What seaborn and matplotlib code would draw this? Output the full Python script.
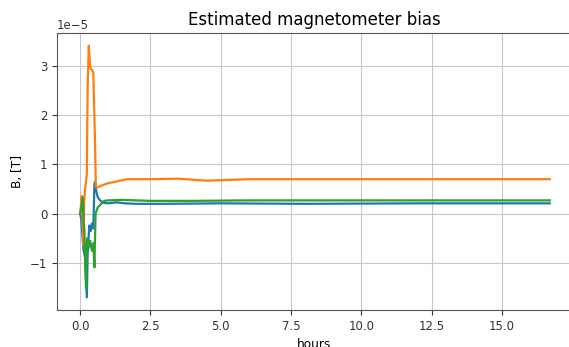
import numpy as np
import pandas as pd
import seaborn as sns
import matplotlib
matplotlib.use("Agg")
import matplotlib.pyplot as plt

# 估计的磁力计偏置 (单位 1e-5 T)
t_x = [0, 0.04, 0.12, 0.18, 0.24, 0.27, 0.33, 0.38, 0.42, 0.47, 0.51, 0.53,
       0.58, 0.63, 0.70, 0.81, 1.0, 1.3, 1.6, 2.0, 3.0, 5.0, 8.0, 12.0, 16.7]
b_x = [0, -0.1, -0.72, -0.9, -1.7, -0.8, -0.24, -0.35, -0.2, -0.3, 0.6, 0.65,
       0.45, 0.33, 0.28, 0.22, 0.21, 0.23, 0.21, 0.2, 0.2, 0.21, 0.2, 0.21, 0.21]

t_y = [0, 0.04, 0.06, 0.12, 0.15, 0.18, 0.24, 0.27, 0.31, 0.36, 0.47, 0.53,
       0.56, 0.60, 0.80, 1.0, 1.2, 1.66, 2.5, 3.5, 4.0, 4.5, 5.0, 6.0, 8.0,
       10.0, 12.0, 14.0, 16.7]
b_y = [0, 0.2, 0.36, -0.65, 0.3, 0.5, 0.8, 2.6, 3.41, 2.97, 2.87, 1.5,
       0.55, 0.53, 0.58, 0.62, 0.64, 0.70, 0.70, 0.71, 0.69, 0.67, 0.68, 0.70,
       0.70, 0.70, 0.70, 0.70, 0.70]

t_z = [0, 0.04, 0.10, 0.12, 0.15, 0.21, 0.25, 0.30, 0.36, 0.42, 0.47, 0.51,
       0.55, 0.63, 0.75, 0.85, 1.0, 1.5, 2.5, 4.0, 6.0, 10.0, 16.7]
b_z = [0, 0.1, 0.33, -0.1, -0.3, -1.52, -0.5, -0.7, -0.55, -0.75, -0.6, -1.09,
       0.0, 0.13, 0.2, 0.26, 0.27, 0.28, 0.26, 0.26, 0.27, 0.27, 0.27]

df = pd.concat([
    pd.DataFrame({"hours": t_x, "B": np.array(b_x) * 1e-5, "axis": "x"}),
    pd.DataFrame({"hours": t_y, "B": np.array(b_y) * 1e-5, "axis": "y"}),
    pd.DataFrame({"hours": t_z, "B": np.array(b_z) * 1e-5, "axis": "z"}),
])

fig = plt.figure(figsize=(5.69, 3.47), dpi=100)
# 原图右侧被裁掉, 坐标轴右边框在画面之外
ax = fig.add_axes([0.1002, 0.1066, 0.905, 0.798])

sns.lineplot(data=df, x="hours", y="B", hue="axis", estimator=None,
             sort=False, linewidth=1.6, legend=False, ax=ax,
             palette=["#1f77b4", "#ff7f0e", "#2ca02c"])

ax.set_xlim(-0.82, 17.49)
ax.grid(True, color="#c8c8c8", linewidth=0.8)
ax.set_title("Estimated magnetometer bias", fontsize=12)
ax.set_xlabel("hours", fontsize=8.7)
ax.set_ylabel("B, [T]", fontsize=8.7)
ax.tick_params(labelsize=8.5, colors="#333333")
ax.yaxis.get_offset_text().set_fontsize(8.5)
for s in ax.spines.values():
    s.set_color("#555555")
ax.spines["right"].set_visible(False)

fig.savefig("out.png", dpi=100)
